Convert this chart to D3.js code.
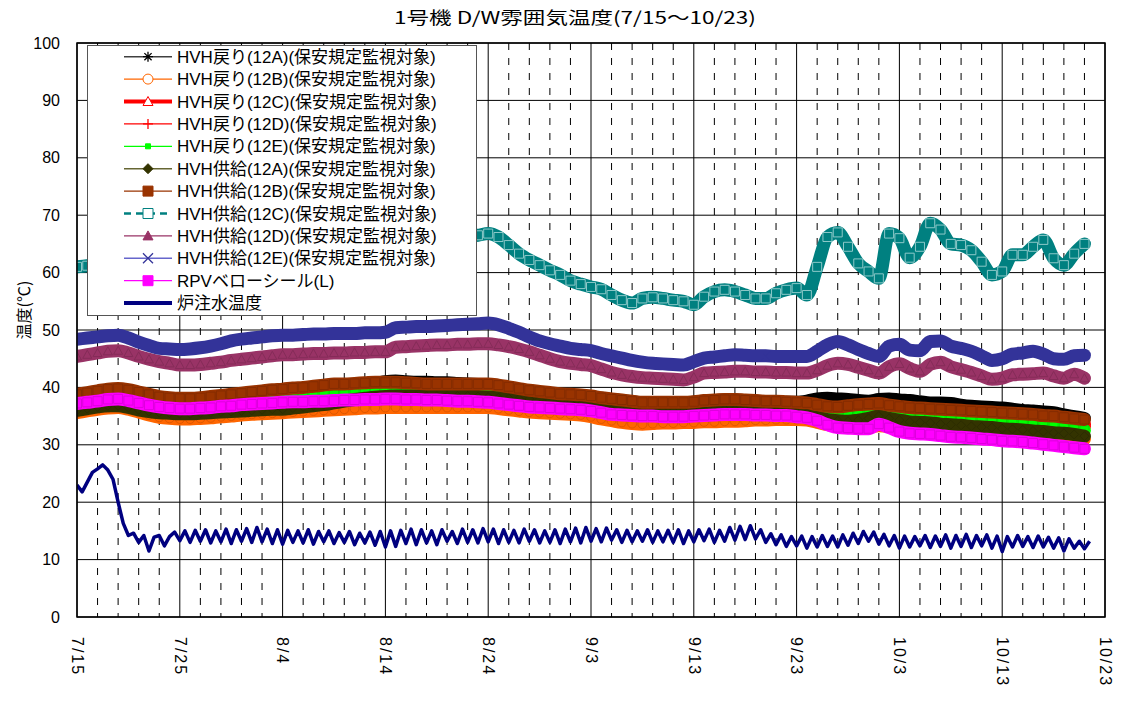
<!DOCTYPE html>
<html><head><meta charset="utf-8">
<script src="https://cdn.jsdelivr.net/npm/d3@7"></script>
<style>body{margin:0;background:#fff}</style>
</head><body><svg id="c" width="1124" height="717"></svg>
<script>
// ---------- DATA ----------
const titleText = "1号機 D/W雰囲気温度(7/15～10/23)";
const yAxisTitle = "温度(℃)";
const startDate = new Date(2011, 6, 15);
const endDate = new Date(2011, 9, 23);
const xTickLabels = ["7/15","7/25","8/4","8/14","8/24","9/3","9/13","9/23","10/3","10/13","10/23"];
const xTickDays = [0,10,20,30,40,50,60,70,80,90,100];
const yTicks = [0,10,20,30,40,50,60,70,80,90,100];
const seriesNames = [
  "HVH戻り(12A)(保安規定監視対象)","HVH戻り(12B)(保安規定監視対象)","HVH戻り(12C)(保安規定監視対象)",
  "HVH戻り(12D)(保安規定監視対象)","HVH戻り(12E)(保安規定監視対象)","HVH供給(12A)(保安規定監視対象)",
  "HVH供給(12B)(保安規定監視対象)","HVH供給(12C)(保安規定監視対象)","HVH供給(12D)(保安規定監視対象)",
  "HVH供給(12E)(保安規定監視対象)","RPVベローシール(L)","炉注水温度"];

// daily values, 7/15 .. 10/22
const ret12A = [38.5,38.8,39.1,39.4,39.5,39.3,38.9,38.5,38.1,37.9, 37.8,37.8,37.9,38.1,38.3,38.5,38.7,38.9,39.1,39.3,
  39.4,39.6,39.7,39.9,40.1,40.3,40.4,40.5,40.6,40.7, 41.0,41.1,41.0,40.9,40.9,40.8,40.8,40.7,40.6,40.5,
  40.4,40.2,39.9,39.6,39.3,39.1,38.9,38.7,38.6,38.5, 38.4,38.1,37.9,37.7,37.5,37.3,37.3,37.3,37.3,37.3,
  37.4,37.6,37.7,37.8,37.8,37.7,37.6,37.5,37.5,37.4, 37.4,37.6,38.0,38.1,38.0,37.9,37.7,37.6,37.9,38.0,
  37.8,37.7,37.5,37.3,37.3,37.2,36.9,36.7,36.6,36.5, 36.4,36.2,36.0,35.9,35.7,35.6,35.2,34.9,34.6];
const ret12B = [35.6,35.9,36.2,36.4,36.5,36.2,35.7,35.2,34.8,34.6, 34.5,34.5,34.6,34.7,34.9,35.0,35.2,35.3,35.4,35.5,
  35.6,35.7,35.8,35.9,36.0,36.1,36.2,36.3,36.4,36.4, 36.5,36.5,36.5,36.5,36.5,36.5,36.5,36.5,36.5,36.5,
  36.5,36.3,36.1,35.9,35.7,35.6,35.5,35.4,35.3,35.2, 34.9,34.5,34.2,33.9,33.7,33.6,33.7,33.8,33.8,33.9,
  33.9,34.0,34.0,34.1,34.1,34.2,34.3,34.3,34.4,34.4, 34.4,34.3,33.9,33.5,33.3,33.3,33.2,33.1,33.3,33.2,
  33.0,32.9,32.8,32.8,32.7,32.6,32.5,32.4,32.3,32.2, 32.1,32.0,31.9,31.8,31.7,31.6,31.4,31.2,31.0];
const ret12C = [37.6,37.9,38.2,38.4,38.5,38.2,37.8,37.4,37.1,36.9, 36.8,36.8,37.0,37.2,37.4,37.6,37.8,37.9,38.0,38.2,
  38.3,38.4,38.5,38.6,38.7,38.7,38.8,38.8,38.9,38.9, 39.0,39.0,39.1,39.1,39.1,39.2,39.2,39.2,39.2,39.1,
  39.0,38.9,38.7,38.4,38.1,37.9,37.7,37.5,37.3,37.2, 36.9,36.6,36.3,36.1,36.0,35.9,35.9,35.9,35.9,35.9,
  36.0,36.1,36.2,36.3,36.4,36.3,36.2,36.2,36.1,36.1, 35.9,35.7,35.4,35.2,35.1,35.0,35.2,35.4,35.3,35.0,
  34.8,34.6,34.5,34.4,34.3,34.2,34.2,34.1,34.1,34.0, 33.9,33.9,33.8,33.7,33.6,33.5,33.4,33.3,33.2];
const ret12D = [37.9,38.2,38.5,38.7,38.8,38.5,38.1,37.7,37.4,37.2, 37.1,37.1,37.3,37.5,37.7,37.9,38.1,38.2,38.3,38.5,
  38.6,38.7,38.8,38.9,39.0,39.0,39.1,39.1,39.2,39.2, 39.3,39.3,39.4,39.4,39.4,39.5,39.5,39.5,39.5,39.4,
  39.3,39.2,39.0,38.7,38.4,38.2,38.0,37.8,37.6,37.5, 37.2,36.9,36.6,36.4,36.3,36.2,36.2,36.2,36.2,36.2,
  36.3,36.4,36.5,36.6,36.7,36.6,36.5,36.5,36.4,36.4, 36.3,36.3,36.4,36.5,36.5,36.4,36.5,36.6,36.6,36.4,
  36.3,36.2,36.1,36.1,36.0,35.9,35.7,35.5,35.3,35.1, 34.9,34.7,34.6,34.4,34.3,34.1,34.0,33.8,33.6];
const ret12E = [37.8,38.1,38.4,38.6,38.7,38.4,38.0,37.6,37.3,37.1, 37.0,37.0,37.2,37.4,37.7,37.9,38.0,38.1,38.2,38.4,
  38.5,38.6,38.7,38.9,39.0,39.0,39.0,39.1,39.1,39.1, 39.2,39.2,39.3,39.3,39.3,39.4,39.4,39.4,39.4,39.4,
  39.3,39.3,39.1,38.7,38.4,38.2,38.0,37.8,37.6,37.5, 37.2,36.8,36.5,36.3,36.2,36.1,36.1,36.1,36.1,36.1,
  36.2,36.3,36.4,36.5,36.6,36.5,36.4,36.4,36.3,36.3, 36.1,35.9,35.7,35.6,35.6,35.5,35.6,35.7,35.6,35.3,
  35.1,34.9,34.7,34.6,34.5,34.4,34.3,34.3,34.2,34.1, 34.0,34.0,33.9,33.7,33.5,33.3,33.0,32.7,32.5];
const sup12A = [36.0,36.3,36.6,36.8,36.8,36.5,36.1,35.8,35.6,35.5, 35.4,35.4,35.5,35.6,35.7,35.8,35.9,36.0,36.1,36.2,
  36.2,36.4,36.6,36.8,37.0,37.3,37.6,37.9,38.1,38.3, 38.4,38.5,38.5,38.5,38.5,38.5,38.5,38.5,38.5,38.4,
  38.3,38.2,38.1,38.0,38.0,37.9,37.8,37.6,37.3,37.0, 36.6,36.3,36.1,36.0,35.9,35.9,35.9,35.9,35.9,35.9,
  36.0,36.1,36.2,36.2,36.2,36.1,36.0,36.0,35.9,35.9, 35.7,35.5,34.8,34.4,34.2,34.1,34.3,34.6,35.0,34.6,
  34.3,34.0,33.9,33.8,33.6,33.5,33.4,33.2,33.1,33.0, 32.8,32.7,32.6,32.4,32.3,32.1,32.0,31.8,31.5];
const sup12B = [38.8,39.1,39.4,39.7,39.8,39.6,39.2,38.8,38.4,38.2, 38.1,38.1,38.2,38.4,38.6,38.8,39.0,39.2,39.4,39.6,
  39.7,39.9,40.0,40.2,40.4,40.6,40.6,40.7,40.8,40.9, 40.9,40.9,40.8,40.7,40.6,40.6,40.6,40.6,40.6,40.6,
  40.6,40.4,40.1,39.8,39.5,39.3,39.1,38.9,38.8,38.7, 38.5,38.2,38.0,37.8,37.6,37.4,37.4,37.4,37.4,37.4,
  37.5,37.7,37.8,37.9,37.9,37.8,37.7,37.6,37.6,37.5, 37.4,37.3,37.0,36.7,36.6,36.8,37.0,37.1,37.2,36.9,
  36.7,36.5,36.4,36.3,36.2,36.1,36.0,35.9,35.8,35.7, 35.6,35.5,35.4,35.3,35.1,35.0,34.8,34.6,34.4];
const sup12C = [61.0,61.2,61.5,61.8,62.0,61.8,61.5,61.3,61.2,61.2, 61.3,61.5,61.8,62.0,62.3,62.6,62.9,63.1,63.3,63.5,
  63.6,63.7,63.8,63.9,64.0,64.1,64.2,64.3,64.4,64.5, 64.6,65.2,65.4,65.5,65.6,65.7,65.8,66.0,66.3,66.5,
  66.8,66.2,64.8,63.3,62.2,61.3,60.4,59.6,58.6,58.0, 57.5,57.1,56.1,55.2,54.7,55.5,55.7,55.5,55.2,55.0,
  54.4,55.8,56.7,57.0,56.7,56.1,55.5,55.5,56.4,57.0, 57.3,56.1,61.0,66.2,67.0,64.5,61.6,60.2,59.0,66.8,
  66.0,62.6,64.5,68.6,67.5,65.0,64.8,63.9,61.9,59.6, 60.2,63.1,63.1,64.5,65.7,62.5,61.3,63.3,65.0];
const sup12D = [45.4,45.7,46.0,46.3,46.4,46.0,45.4,44.9,44.5,44.2, 43.9,43.9,44.0,44.2,44.4,44.7,44.9,45.1,45.3,45.5,
  45.7,45.7,45.8,45.9,45.9,46.0,46.0,46.1,46.1,46.2, 46.2,47.0,47.1,47.2,47.3,47.4,47.4,47.5,47.5,47.6,
  47.6,47.4,47.1,46.7,46.2,45.6,45.0,44.5,44.2,44.0, 43.8,43.2,42.6,42.2,41.9,41.7,41.6,41.5,41.4,41.3,
  41.8,42.5,42.6,42.7,42.8,42.8,42.7,42.7,42.6,42.6, 42.5,42.5,43.0,43.8,44.2,44.0,43.5,43.0,42.5,43.6,
  44.1,43.3,42.8,44.0,44.4,43.6,43.1,42.6,42.0,41.4, 41.6,42.2,42.3,42.4,42.5,42.0,41.6,42.3,41.6];
const sup12E = [48.4,48.6,48.8,49.0,49.1,48.6,47.9,47.3,46.8,46.7, 46.6,46.7,46.9,47.2,47.6,48.1,48.4,48.6,48.8,49.0,
  49.1,49.1,49.2,49.3,49.3,49.4,49.4,49.4,49.5,49.5, 49.6,50.4,50.5,50.6,50.6,50.7,50.8,50.9,51.0,51.1,
  51.2,50.9,50.3,49.6,48.8,48.1,47.6,47.2,46.8,46.6, 46.4,45.9,45.5,45.1,44.7,44.4,44.2,44.1,44.0,43.9,
  44.5,45.1,45.3,45.5,45.7,45.6,45.5,45.5,45.4,45.4, 45.4,45.4,46.3,47.4,48.0,47.4,46.6,45.9,45.4,47.2,
  47.5,46.5,46.4,48.0,48.1,47.2,46.8,46.3,45.5,44.7, 45.0,45.8,46.0,46.3,45.8,45.0,44.9,45.5,45.6];
const rpvBellows = [37.2,37.4,37.6,37.9,38.0,37.7,37.3,36.9,36.6,36.4, 36.3,36.3,36.4,36.5,36.7,36.8,37.0,37.1,37.2,37.3,
  37.4,37.5,37.5,37.6,37.6,37.7,37.8,37.8,37.9,37.9, 38.0,38.0,37.9,37.9,37.8,37.8,37.7,37.6,37.6,37.5,
  37.4,37.2,37.0,36.8,36.6,36.5,36.4,36.3,36.2,36.1, 35.9,35.6,35.3,35.2,35.1,35.0,35.0,34.9,34.9,34.9,
  35.0,35.1,35.2,35.3,35.3,35.3,35.2,35.2,35.1,35.1, 34.9,34.7,34.2,33.5,33.0,32.9,32.8,32.8,33.6,33.0,
  32.3,32.0,31.9,31.8,31.6,31.4,31.3,31.2,31.0,30.9, 30.7,30.6,30.5,30.3,30.1,29.9,29.7,29.5,29.3];
// half-day values, 7/15 0:00 .. 10/22 12:00
const injection = [23.0,21.8,23.5,25.2,25.8,26.5,25.6,24.0,20.0,16.3, 14.2,14.6,13.0,14.2,11.5,13.9,14.2,12.4,14.0,14.8,
  13.3,15.0,13.0,15.1,13.2,15.2,12.9,15.0,13.1,15.3, 12.8,15.2,13.2,15.4,13.0,15.6,13.1,15.3,12.8,15.2,
  12.7,15.1,13.0,15.0,12.9,15.2,12.7,14.9,13.1,15.0, 12.8,14.7,13.0,14.9,12.6,14.6,12.9,14.8,12.5,14.9,
  12.2,15.0,12.3,15.1,12.8,15.3,12.6,15.2,12.9,15.0, 12.6,15.2,13.2,14.9,12.8,15.3,13.0,15.2,12.9,15.4,
  13.1,15.3,12.8,15.2,13.0,15.1,12.9,15.3,13.2,15.2, 12.9,15.0,13.0,15.2,12.8,15.3,13.1,15.5,12.9,15.6,
  13.2,15.4,13.1,15.5,13.4,15.2,13.0,15.1,13.1,15.0, 13.2,15.2,13.0,15.0,13.1,15.1,13.0,15.2,12.8,15.0,
  13.1,15.2,13.3,15.3,13.0,15.1,13.2,15.6,13.4,15.8, 13.5,15.9,13.6,15.2,13.0,14.5,12.6,14.3,12.3,14.0,
  12.4,14.1,12.0,14.0,12.2,14.2,12.3,14.1,12.2,14.3, 12.5,14.6,12.8,14.9,13.2,14.8,12.7,14.4,12.4,14.2,
  12.0,14.1,12.2,14.0,12.4,14.2,12.1,14.1,12.3,14.3, 12.0,14.2,12.3,14.4,12.1,14.2,12.4,14.3,12.0,14.1,
  11.4,14.0,12.2,14.2,12.3,14.0,12.1,14.1,12.2,13.9, 12.0,13.8,11.5,13.6,12.0,13.2,11.9,13.2];

// ---------- STYLES ----------
const seriesData = [ret12A, ret12B, ret12C, ret12D, ret12E, sup12A, sup12B, sup12C, sup12D, sup12E, rpvBellows, injection];
const styles = [
  {color:"#000000", legColor:"#404040", lw:1.5, mk:"asterisk", mfill:"none", msize:5},
  {color:"#FF6600", legColor:"#FF6600", lw:1.2, mk:"circle", mfill:"#fff", msize:5},
  {color:"#FF0000", legColor:"#FF0000", lw:4, mk:"triangle", mfill:"#fff", msize:5},
  {color:"#FF0000", legColor:"#FF0000", lw:1.2, mk:"plus", mfill:"none", msize:5},
  {color:"#00FF00", legColor:"#00FF00", lw:1.2, mk:"square", mfill:"#00FF00", msize:2.5},
  {color:"#333300", legColor:"#666633", lw:1.5, mk:"diamond", mfill:"#333300", msize:5},
  {color:"#993300", legColor:"#993300", lw:1.2, mk:"square", mfill:"#993300", msize:5},
  {color:"#008080", legColor:"#008080", lw:2.5, mk:"square", mfill:"#fff", msize:5, dash:"7,5"},
  {color:"#993366", legColor:"#993366", lw:1.2, mk:"triangle", mfill:"#993366", msize:5},
  {color:"#333399", legColor:"#6666CC", lw:1.5, mk:"x", mfill:"none", msize:5, mcol:"#333399"},
  {color:"#FF00FF", legColor:"#FF00FF", lw:1.2, mk:"square", mfill:"#FF00FF", msize:5},
  {color:"#000080", legColor:"#000080", lw:4, mk:null}
];

function markerPath(type, h) {
  const k = h * 0.72;
  switch (type) {
    case "asterisk": return `M${-h},0L${h},0M0,${-h}L0,${h}M${-k},${-k}L${k},${k}M${-k},${k}L${k},${-k}`;
    case "plus": return `M${-h},0L${h},0M0,${-h}L0,${h}`;
    case "x": return `M${-h},${-h}L${h},${h}M${-h},${h}L${h},${-h}`;
    case "circle": return `M${h},0A${h},${h} 0 1,1 ${-h},0A${h},${h} 0 1,1 ${h},0Z`;
    case "triangle": return `M0,${-h}L${h},${h*0.8}L${-h},${h*0.8}Z`;
    case "square": return `M${-h},${-h}H${h}V${h}H${-h}Z`;
    case "diamond": return `M0,${-h}L${h},0L0,${h}L${-h},0Z`;
  }
  return "";
}

// ---------- CHART ----------
const svg = d3.select("#c");
const plot = {l:77, r:1105, t:43, b:617};
const x = d3.scaleTime().domain([startDate, endDate]).range([plot.l, plot.r]);
const y = d3.scaleLinear().domain([0, 100]).range([plot.b, plot.t]);
const DAY = 86400000;
const dateAt = d => new Date(startDate.getTime() + d * DAY);
const latin = "'Liberation Sans', Arial, 'Noto Sans CJK JP', sans-serif";

// title
svg.append("text").attr("x", 394).attr("y", 24)
  .attr("textLength", 362).attr("lengthAdjust", "spacingAndGlyphs")
  .style("font-family", "'Noto Sans CJK JP', sans-serif").style("font-size", "17px")
  .text(titleText);

// grid
const grid = svg.append("g");
const dashDays = d3.range(2, 100, 2).filter(d => d % 10 !== 0);
grid.selectAll(".vd").data(dashDays).join("line")
  .attr("x1", d => x(dateAt(d))).attr("x2", d => x(dateAt(d)))
  .attr("y1", plot.t).attr("y2", plot.b)
  .attr("stroke", "#000").attr("stroke-width", 1).attr("stroke-dasharray", "7,8");
grid.selectAll(".vs").data(xTickDays).join("line")
  .attr("x1", d => x(dateAt(d))).attr("x2", d => x(dateAt(d)))
  .attr("y1", plot.t).attr("y2", plot.b)
  .attr("stroke", "#000").attr("stroke-width", 1);
grid.selectAll(".hs").data(yTicks).join("line")
  .attr("x1", plot.l).attr("x2", plot.r)
  .attr("y1", d => y(d)).attr("y2", d => y(d))
  .attr("stroke", "#000").attr("stroke-width", 1);

// clip
svg.append("clipPath").attr("id", "pc").append("rect")
  .attr("x", plot.l).attr("y", plot.t).attr("width", plot.r - plot.l).attr("height", plot.b - plot.t);
const dataG = svg.append("g").attr("clip-path", "url(#pc)");

seriesData.forEach((vals, si) => {
  const st = styles[si];
  const step = si === 11 ? 0.5 : 1;
  const pts = vals.map((v, i) => [dateAt(i * step), v]);
  const line = d3.line().x(p => x(p[0])).y(p => y(p[1]));
  const g = dataG.append("g");
  if (si === 11) {
    g.append("path").attr("d", line(pts)).attr("fill", "none")
      .attr("stroke", st.color).attr("stroke-width", 3.5).attr("stroke-linejoin", "round");
    return;
  }
  g.append("path").attr("d", line.curve(d3.curveMonotoneX)(pts)).attr("fill", "none")
    .attr("stroke", st.color).attr("stroke-width", 13).attr("stroke-linejoin", "round").attr("stroke-linecap", "round");
  const mcol = st.mcol || d3.color(st.color).darker(0.4).formatHex();
  g.selectAll("path.m").data(pts).join("path").attr("class", "m")
    .attr("transform", p => `translate(${x(p[0])},${y(p[1])})`)
    .attr("d", markerPath(st.mk, 4.5))
    .attr("fill", "none")
    .attr("stroke", si === 7 ? "#8cc8c8" : mcol)
    .attr("stroke-width", 1);
});

// border
svg.append("rect").attr("x", plot.l).attr("y", plot.t).attr("width", plot.r - plot.l).attr("height", plot.b - plot.t)
  .attr("fill", "none").attr("stroke", "#000").attr("stroke-width", 1.5);

// axes
const yAxis = svg.append("g").attr("transform", `translate(${plot.l},0)`)
  .call(d3.axisLeft(y).tickValues(yTicks).tickSize(0).tickPadding(17));
yAxis.select(".domain").remove();
yAxis.selectAll("text").style("font-family", latin).style("font-size", "16px").attr("fill", "#000");

const xAxis = svg.append("g").attr("transform", `translate(0,${plot.b})`)
  .call(d3.axisBottom(x).tickValues(xTickDays.map(dateAt)).tickSize(0).tickFormat((d, i) => xTickLabels[i]));
xAxis.select(".domain").remove();
xAxis.selectAll("text")
  .attr("transform", "rotate(90)").attr("x", 20).attr("y", 0).attr("dy", "0.35em")
  .attr("text-anchor", "start")
  .style("font-family", latin).style("font-size", "16px").style("letter-spacing", "2px").attr("fill", "#000");

// y title
svg.append("text").attr("transform", "translate(24,310) rotate(-90)")
  .attr("text-anchor", "middle").attr("dy", "0.35em")
  .style("font-family", "'Noto Sans CJK JP', sans-serif").style("font-size", "16px")
  .text(yAxisTitle);

// legend
const leg = svg.append("g");
leg.append("rect").attr("x", 87.5).attr("y", 45.5).attr("width", 389).attr("height", 270)
  .attr("fill", "#fff").attr("stroke", "#555").attr("stroke-width", 1);
seriesNames.forEach((name, i) => {
  const st = styles[i];
  const ly = 56.7 + i * 22.4;
  const row = leg.append("g").attr("transform", `translate(0,${ly})`);
  row.append("line").attr("x1", 124).attr("x2", 172).attr("y1", 0).attr("y2", 0)
    .attr("stroke", st.legColor).attr("stroke-width", i === 11 ? 4 : st.lw)
    .attr("stroke-dasharray", st.dash || null);
  if (st.mk) {
    const h = st.msize;
    const stroked = ["asterisk", "plus", "x"].includes(st.mk);
    row.append("path").attr("transform", "translate(148,0)")
      .attr("d", markerPath(st.mk, h))
      .attr("fill", stroked ? "none" : st.mfill)
      .attr("stroke", st.mcol || st.color).attr("stroke-width", stroked ? 1.3 : 1);
  }
  row.append("text").attr("x", 177).attr("y", 0).attr("dy", "0.36em")
    .style("font-family", latin).style("font-size", "17px").text(name);
});
</script>
</body></html>
